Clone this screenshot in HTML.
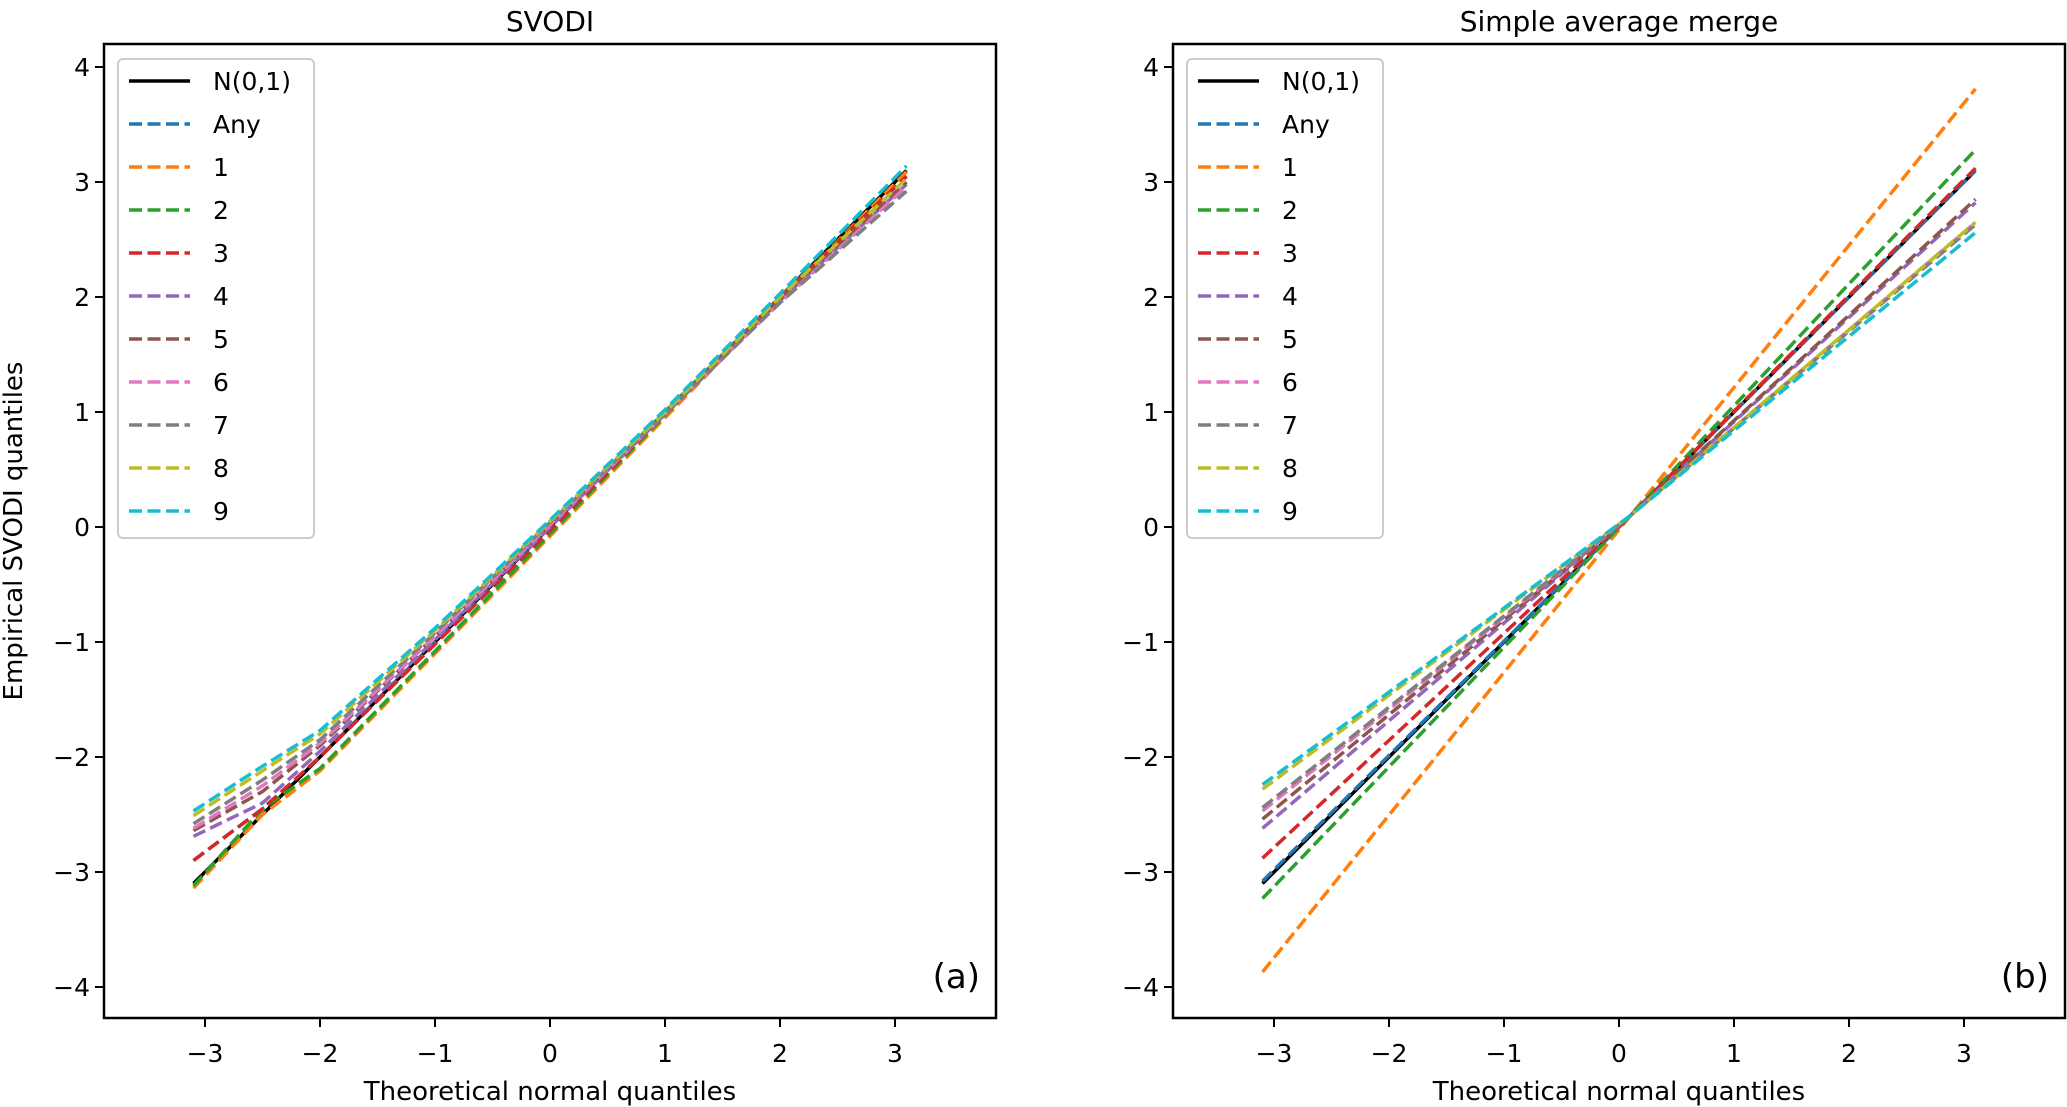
<!DOCTYPE html>
<html><head><meta charset="utf-8"><style>
body{margin:0;background:#fff}
svg{display:block}
text{font-family:"DejaVu Sans","Liberation Sans",sans-serif;fill:#000}
</style></head><body>
<svg id="fig" width="2067" height="1107" viewBox="0 0 2067 1107"></svg>
<script>
const seriesNames=["Any","1","2","3","4","5","6","7","8","9"];
const seriesColors=["#1f77b4","#ff7f0e","#2ca02c","#d62728","#9467bd","#8c564b","#e377c2","#7f7f7f","#bcbd22","#17becf"];
const xTicks=[-3,-2,-1,0,1,2,3];
const yTicks=[-4,-3,-2,-1,0,1,2,3,4];
const xTickLabels=["\u22123","\u22122","\u22121","0","1","2","3"];
const yTickLabels=["\u22124","\u22123","\u22122","\u22121","0","1","2","3","4"];
const leftX=[-3.1,-2.5,-2,-1,0,1,2,3.1];
const leftNormal=[-3.1,-2.5,-2,-1,0,1,2,3.1];
const leftAny=[-2.9,-2.45,-2.0,-1.0,0.0,1.0,2.0,3.05];
const left1=[-3.14,-2.5,-2.12,-1.1,-0.08,0.95,1.98,3.09];
const left2=[-3.12,-2.45,-2.1,-1.08,-0.06,0.97,2.0,3.05];
const left3=[-2.9,-2.45,-2.0,-1.02,-0.03,0.98,2.0,3.05];
const left4=[-2.69,-2.4,-1.95,-0.98,0.0,0.98,1.97,2.98];
const left5=[-2.64,-2.3,-1.9,-0.95,0.02,1.0,1.98,3.0];
const left6=[-2.62,-2.25,-1.88,-0.95,0.02,0.98,1.95,2.96];
const left7=[-2.58,-2.2,-1.85,-0.92,0.04,0.98,1.95,2.92];
const left8=[-2.51,-2.12,-1.8,-0.9,0.05,1.0,2.0,3.03];
const left9=[-2.47,-2.08,-1.77,-0.88,0.06,1.02,2.03,3.14];
const rightX=[-3.1,0.1,3.1];
const rightNormal=[-3.1,0.1,3.1];
const rightAny=[-3.08,0.1,3.1];
const right1=[-3.87,0.1,3.81];
const right2=[-3.23,0.1,3.28];
const right3=[-2.88,0.1,3.12];
const right4=[-2.62,0.1,2.82];
const right5=[-2.54,0.1,2.85];
const right6=[-2.47,0.1,2.65];
const right7=[-2.44,0.1,2.63];
const right8=[-2.28,0.1,2.65];
const right9=[-2.24,0.1,2.56];

const NS="http://www.w3.org/2000/svg";
const svg=document.getElementById('fig');
function mk(tag,attrs,parent){const e=document.createElementNS(NS,tag);for(const k in attrs)e.setAttribute(k,attrs[k]);(parent||svg).appendChild(e);return e;}

function panel(ox,title,tag,xs,normal,series,key){
  const L=ox,R=ox+892,T=44,B=1018;
  const x0=ox+446,unit=115,y0=527;
  const sx=v=>x0+v*unit, sy=v=>y0-v*unit;
  const g=mk('g',{});
  
  
  const clipId='clip-'+key;
  const cp=mk('clipPath',{id:clipId},g);mk('rect',{x:L,y:T,width:R-L,height:B-T},cp);
  const plot=mk('g',{'clip-path':'url(#'+clipId+')'},g);
  const pts=arr=>arr.map((v,i)=>sx(xs[i]).toFixed(1)+','+sy(v).toFixed(1)).join(' ');
  const nl=mk('polyline',{points:pts(normal),fill:'none',stroke:'#000','stroke-width':3.5},plot);
  
  
  series.forEach((s,i)=>{
    const p=mk('polyline',{points:pts(s),fill:'none',stroke:seriesColors[i],'stroke-width':3.5,'stroke-dasharray':'13,5.5'},plot);
    
    
  });
  mk('rect',{x:L,y:T,width:R-L,height:B-T,fill:'none',stroke:'#000','stroke-width':2.5},g);
  xTicks.forEach((t,i)=>{
    mk('line',{x1:sx(t),x2:sx(t),y1:B,y2:B+9,stroke:'#000','stroke-width':2},g);
    const tx=mk('text',{x:sx(t),y:1062,'text-anchor':'middle','font-size':25},g);tx.textContent=xTickLabels[i];
    
    
  });
  yTicks.forEach((t,i)=>{
    mk('line',{x1:L-9,x2:L,y1:sy(t),y2:sy(t),stroke:'#000','stroke-width':2},g);
    const tx=mk('text',{x:L-14,y:sy(t)+9,'text-anchor':'end','font-size':25},g);tx.textContent=yTickLabels[i];
    
    
  });
  const ti=mk('text',{x:(L+R)/2,y:31,'text-anchor':'middle','font-size':28},g);ti.textContent=title;
  
  
  const xl=mk('text',{x:(L+R)/2,y:1100,'text-anchor':'middle','font-size':26},g);xl.textContent='Theoretical normal quantiles';
  
  
  const tg=mk('text',{x:R-16,y:988,'text-anchor':'end','font-size':34},g);tg.textContent=tag;
  
  
  // legend
  const lg=mk('g',{},g);
  
  
  mk('rect',{x:L+14,y:T+15,width:196,height:479,rx:5,fill:'#fff','fill-opacity':0.8,stroke:'#ccc','stroke-width':2},lg);
  const labels=['N(0,1)'].concat(seriesNames);
  labels.forEach((lab,i)=>{
    const yy=T+37+i*43;
    mk('line',{x1:L+25,x2:L+86,y1:yy,y2:yy,stroke:i===0?'#000':seriesColors[i-1],'stroke-width':3.5,'stroke-dasharray':i===0?'none':'13,5.5'},lg);
    const t=mk('text',{x:L+109,y:yy+9,'font-size':25},lg);t.textContent=lab;
    
    
  });
}
panel(104,'SVODI','(a)',leftX,leftNormal,[leftAny,left1,left2,left3,left4,left5,left6,left7,left8,left9],'svodi');
panel(1173,'Simple average merge','(b)',rightX,rightNormal,[rightAny,right1,right2,right3,right4,right5,right6,right7,right8,right9],'merge');
const yl=mk('text',{x:0,y:0,'text-anchor':'middle','font-size':26,transform:'translate(22,531) rotate(-90)'});
yl.textContent='Empirical SVODI quantiles';


</script>
</body></html>
